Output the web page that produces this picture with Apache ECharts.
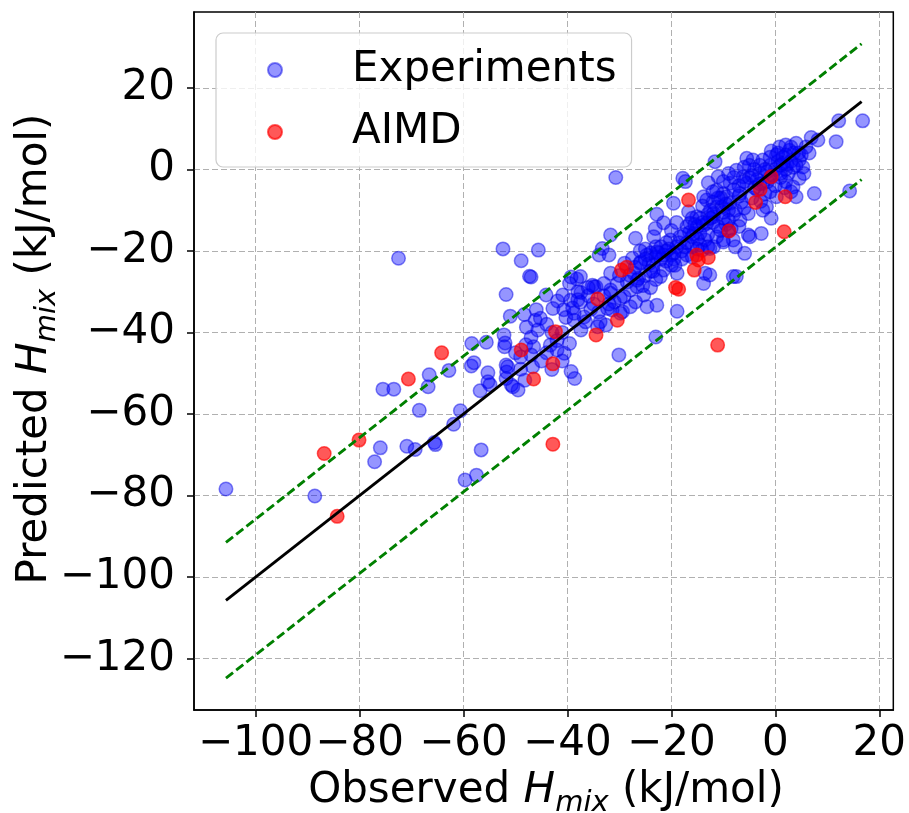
<!DOCTYPE html>
<html>
<head>
<meta charset="utf-8">
<script src="https://cdn.jsdelivr.net/npm/echarts@6/dist/echarts.min.js"></script>
<style>html,body{margin:0;padding:0;background:#fff;}#chart{width:909px;height:813px;}</style>
</head>
<body>
<div id="chart"></div>
<script>
// ---- data (observed, predicted) in kJ/mol ----
const experiments = [
[-105.7,-78.4],[-88.6,-80.1],[-72.5,-21.8],[-75.5,-53.9],[-73.4,-53.9],[-68.5,-59.1],[-76.0,-68.3],[-77.1,-71.7],[-70.9,-67.9],[-69.3,-68.7],
[-66.6,-50.4],[-66.8,-53.3],[-62.8,-49.3],[-65.6,-67.0],[-65.4,-67.5],[-61.9,-62.5],[-60.6,-59.2],[-59.7,-76.2],[-57.5,-75.0],[-56.6,-68.8],
[-58.4,-42.7],[-55.6,-42.4],[-58.5,-48.2],[-58.0,-47.4],[-55.3,-49.9],[-54.9,-52.8],[-56.8,-54.3],[-55.3,-52.1],[-52.4,-19.5],[-45.6,-19.8],
[-48.9,-22.4],[-47.3,-26.2],[-47.0,-26.4],[-39.3,-26.4],[-38.2,-26.9],[-51.8,-30.7],[-51.0,-36.0],[-48.3,-35.6],[-46.0,-34.4],[-44.1,-30.8],
[-41.9,-32.3],[-42.8,-34.1],[-40.7,-34.4],[-39.4,-32.1],[-37.4,-30.2],[-37.5,-32.6],[-35.5,-34.3],[-47.9,-38.7],[-46.2,-37.0],[-45.2,-36.5],
[-45.7,-39.4],[-47.0,-41.2],[-46.5,-43.5],[-43.3,-43.1],[-40.6,-45.1],[-39.6,-42.7],[-38.6,-51.3],[-52.2,-40.6],[-52.0,-42.6],[-52.1,-43.5],
[-51.8,-48.0],[-51.7,-49.7],[-50.8,-52.9],[-49.5,-54.1],[-48.2,-51.7],[-50.5,-53.3],[-51.5,-48.4],[-46.7,-48.4],[-47.0,-45.5],[-43.0,-49.1],
[-42.0,-44.3],[-39.3,-49.6],[-40.3,-36.3],[-38.7,-37.0],[-36.8,-36.2],[-37.4,-39.4],[-33.7,-37.4],[-32.6,-38.2],[-32.3,-34.1],[-31.0,-32.5],
[-31.4,-34.5],[-29.4,-34.9],[-34.5,-28.8],[-31.7,-29.6],[-29.8,-31.6],[-27.9,-29.6],[-26.9,-32.5],[-25.3,-30.8],[-26.6,-28.8],[-31.7,-25.5],
[-30.4,-28.0],[-27.2,-25.5],[-26.3,-26.7],[-30.1,-45.5],[-39.6,-28.0],[-33.3,-19.4],[-33.9,-21.0],[-31.7,-16.1],[-32.0,-21.0],[-26.9,-16.9],
[-27.5,-21.8],[-25.9,-22.7],[-28.5,-27.6],[-51.8,-51.3],
[-30.7,-2.0],[-11.6,1.9],[-17.8,-2.2],[-17.3,-3.0],[-12.9,-3.3],[-11.0,-1.8],[-19.6,-8.3],[-16.7,-10.4],[-22.8,-11.0],[-21.5,-13.1],
[-23.1,-14.5],[-23.4,-16.5],[-24.7,-21.0],[-22.8,-20.2],[-24.3,-23.1],[-21.5,-24.7],[-22.1,-26.3],[-18.9,-25.5],[-19.3,-23.5],[-20.2,-17.3],
[-18.3,-16.5],[-15.7,-15.7],[-16.4,-13.2],[-15.1,-11.6],[-13.8,-13.7],[-11.9,-11.6],[-13.2,-7.5],[-11.3,-9.2],[-10.0,-5.9],[-8.7,-8.3],
[-10.0,-17.3],[-8.1,-17.3],[-13.5,-17.3],[-14.1,-19.8],[-11.9,-19.0],[-13.8,-28.0],[-12.6,-25.9],[-18.9,-34.8],[-23.0,-41.1],[-8.1,-26.3],
[-29.1,-31.2],[-31.7,-30.4],[-24.7,-33.7],[-22.8,-33.3],[-26.6,-27.2],[-33.0,-28.0],[-34.9,-28.8],[-38.0,-30.0],[-40.9,-30.8],[-38.7,-35.3],
[-36.5,-37.4],[-34.2,-38.6],[-29.8,-35.3],[-27.9,-33.7],[-35.2,-28.4],[-37.5,-26.3],
[16.8,11.9],[12.2,11.9],[11.7,6.8],[8.2,7.2],[6.9,7.8],[5.9,5.5],[4.0,6.4],[2.7,4.7],[0.8,5.5],[0.2,3.5],
[4.6,2.3],[5.3,0.6],[4.6,-2.2],[3.4,-4.3],[0.2,-6.7],[4.0,-6.7],[7.5,-5.9],[14.3,-5.3],[-2.4,2.3],[-4.3,2.3],
[-5.5,2.7],[-7.5,-0.2],[-6.2,-1.8],[-13.8,-6.7],[-11.3,-5.1],[-8.7,-3.4],[-9.4,-6.7],[-6.8,-5.9],[-5.5,-3.4],[-2.4,-3.4],
[-1.7,-9.2],[-0.8,-12.0],[-2.4,-10.0],[-5.2,-10.8],[-6.8,-12.4],[-7.7,-10.0],[-10.3,-9.2],[-11.9,-10.8],[-13.2,-13.2],[-14.5,-15.7],
[-11.3,-16.5],[-10.0,-17.8],[-7.7,-19.0],[-5.2,-16.1],[-2.7,-15.7],[-5.9,-20.6],[-12.6,-19.4],[-13.5,-25.5],[-7.5,-26.3],[-4.9,-16.5],
[1.0,1.0],[2.0,0.0],[3.0,2.0],[1.5,3.0],[2.5,-1.0],[0.0,0.0],[-1.0,1.0],[3.5,4.0],[4.5,4.0],[1.0,-2.0],
[2.0,-3.0],[-0.5,-1.5],[5.0,3.5],[3.0,5.5],[2.0,6.0],[0.5,2.0],[-1.5,-0.5],[6.5,4.0],[-0.8,4.5],[1.8,-4.5],
[0.0,-4.0],[3.0,-5.5],[5.5,-1.0],[2.2,1.2],
[-3.0,-1.0],[-4.0,0.0],[-5.0,-2.0],[-6.0,0.5],[-3.5,-5.0],[-2.0,-6.0],[-4.5,-7.0],[-7.0,-4.0],[-8.0,-2.0],[-3.0,1.0],
[-1.5,-3.0],[-6.5,-8.0],[-9.0,-1.0],[-10.0,-3.0],[-4.0,-4.5],[-2.8,-7.8],[-5.0,1.0],[-1.0,-5.5],
[-9.0,-10.0],[-10.0,-12.0],[-12.0,-13.0],[-13.0,-11.0],[-14.0,-9.0],[-15.0,-14.0],[-16.0,-12.0],[-11.0,-14.0],[-9.5,-13.5],[-8.0,-11.0],
[-12.0,-8.0],[-10.5,-7.0],[-14.5,-12.0],[-16.5,-15.5],[-17.0,-14.0],[-13.0,-16.0],[-9.0,-15.0],[-7.0,-14.0],[-12.5,-10.0],
[-17.0,-18.0],[-18.0,-20.0],[-19.0,-19.0],[-20.0,-21.0],[-16.0,-19.0],[-15.0,-17.0],[-18.0,-22.0],[-20.0,-15.0],[-21.0,-18.0],[-19.5,-22.0],
[-17.5,-16.0],[-16.0,-21.5],[-22.0,-22.0],[-23.0,-19.0],[-21.5,-21.0],
[-25.0,-19.5],[-24.0,-20.5],[-23.0,-21.5],[-22.0,-19.0],[-21.0,-22.5],[-26.0,-20.0],[-25.0,-22.0],[-23.5,-23.5],
[-25.0,-26.0],[-27.0,-24.0],[-28.0,-26.0],[-24.0,-25.0],[-23.0,-27.0],[-25.5,-28.5],[-29.0,-23.0],[-26.0,-23.0],[-24.0,-29.0],[-30.0,-26.0],
[-33.0,-31.0],[-35.0,-33.0],[-36.0,-31.0],[-34.0,-35.0],[-32.0,-33.0],[-39.0,-34.0],[-38.0,-32.0],[-36.0,-29.0],
[-43.0,-40.0],[-41.0,-40.0],[-44.0,-38.0],[-42.0,-42.0],[-44.0,-45.0],[-41.0,-47.0],[-45.0,-47.0],
[-49.0,-46.0],[-48.0,-43.0],[-50.0,-45.0],[-49.0,-49.0],
[-1.0,3.0],[0.5,4.0],[2.0,3.5],[3.5,0.5],[1.0,-1.0],[-2.0,0.0],[-3.5,-2.5],[-4.5,-1.5],[-6.0,-3.0],[-7.0,-6.5],
[-8.0,-5.0],[-9.5,-8.5],[-11.0,-7.0],[-12.0,-5.5],[-10.0,-10.5],[-12.5,-12.0],[-14.0,-13.0],[-15.5,-13.5],[-16.0,-16.5],[-17.5,-19.0],
[-18.5,-18.0],[-19.5,-20.5],[-20.5,-19.5],[-21.0,-20.0],[-22.5,-20.5],[-20.0,-23.5],[-17.0,-21.0],[-14.5,-18.5],[-13.0,-19.0],[-9.0,-12.5],
[-6.0,-9.5],[-3.0,-3.5],[-1.0,-2.0],[1.5,1.5],[4.0,1.0],[-8.5,-14.5],[-10.5,-15.0],[-15.0,-19.5],[-19.0,-13.0],[-23.5,-25.0]
];
const aimd = [
[-86.8,-69.7],[-80.1,-66.4],[-84.3,-85.1],[-70.6,-51.4],[-64.2,-45.0],[-48.9,-44.3],[-46.5,-51.4],[-42.8,-47.7],[-42.3,-39.8],[-42.8,-67.4],
[-34.2,-31.8],[-30.4,-37.0],[-34.5,-40.6],[-29.6,-24.7],[-28.6,-24.0],[-16.7,-7.5],[-8.9,-15.1],[-18.6,-29.4],[-19.2,-29.0],[-15.1,-21.0],
[-14.8,-22.2],[-12.9,-21.6],[-15.6,-24.7],[-0.8,-1.8],[-2.9,-4.9],[-3.8,-8.1],[1.9,-6.7],[1.7,-15.3],[-11.1,-43.1]
];
const identityLine = [[-105.7,-105.7],[16.6,16.6]];
const upperBound   = [[-105.7,-91.5],[16.6,30.8]];
const lowerBound   = [[-105.7,-124.8],[16.6,-2.5]];
const xTicks = [-100,-80,-60,-40,-20,0,20];
const yTicks = [-120,-100,-80,-60,-40,-20,0,20];
const xRange = [-111.85, 22.7];
const yRange = [-132.6, 38.6];

const FONT = 'DejaVu Sans';
const FS = 42;
const fmt = v => (v < 0 ? '\u2212' + Math.abs(v) : String(v));

const chart = echarts.init(document.getElementById('chart'));
const richName = {
  n: {fontSize: FS, fontFamily: FONT, color: '#000', lineHeight: 54},
  i: {fontSize: FS, fontFamily: FONT, fontStyle: 'italic', color: '#000', lineHeight: 54},
  s: {fontSize: 29, fontFamily: FONT, fontStyle: 'italic', color: '#000', lineHeight: 29, verticalAlign: 'bottom'}
};
chart.setOption({
  animation: false,
  backgroundColor: '#fff',
  grid: {left: 194, top: 12, width: 704, height: 698, show: true, borderColor: '#000', borderWidth: 1.5, containLabel: false},
  xAxis: {
    type: 'value', min: xRange[0], max: xRange[1], splitNumber: 7,
    axisLine: {show: true, onZero: false, lineStyle: {color: '#000', width: 1.5}},
    axisTick: {show: true, inside: false, length: 7, lineStyle: {color: '#000', width: 1.5}, customValues: xTicks},
    axisLabel: {customValues: xTicks, formatter: fmt, fontSize: FS, fontFamily: FONT, color: '#000', margin: 13},
    splitLine: {show: true, lineStyle: {color: '#b0b0b0', width: 1, type: [6, 3]}}
  },
  yAxis: {
    type: 'value', min: yRange[0], max: yRange[1], splitNumber: 8,
    axisLine: {show: true, onZero: false, lineStyle: {color: '#000', width: 1.5}},
    axisTick: {show: true, inside: false, length: 7, lineStyle: {color: '#000', width: 1.5}, customValues: yTicks},
    axisLabel: {customValues: yTicks, formatter: fmt, fontSize: FS, fontFamily: FONT, color: '#000', margin: 19},
    splitLine: {show: true, lineStyle: {color: '#b0b0b0', width: 1, type: [6, 3]}}
  },
  legend: {
    orient: 'vertical', left: 216, top: 33, padding: [16, 15, 14, 51],
    itemWidth: 14, itemHeight: 14, itemGap: 20,
    backgroundColor: 'rgba(255,255,255,0.8)', borderColor: '#cccccc', borderWidth: 1.2, borderRadius: 7,
    textStyle: {fontSize: FS, fontFamily: FONT, color: '#000', padding: [0, 0, 0, 65]},
    data: ['Experiments', 'AIMD']
  },
  graphic: [
    {type: 'text', x: 546, y: 791, style: {text: '{n|Observed }{i|H}{s|mix}{n| (kJ/mol)}', rich: richName, align: 'center', verticalAlign: 'middle'}},
    {type: 'text', x: 35, y: 349, rotation: Math.PI / 2, style: {text: '{n|Predicted }{i|H}{s|mix}{n| (kJ/mol)}', rich: richName, align: 'center', verticalAlign: 'middle'}}
  ],
  series: [
    {name: 'Experiments', type: 'scatter', data: experiments, symbol: 'circle', symbolSize: 13.5, z: 2,
     itemStyle: {color: 'rgba(0,0,255,0.52)', borderColor: 'rgba(0,0,230,0.6)', borderWidth: 1.5}},
    {name: 'AIMD', type: 'scatter', data: aimd, symbol: 'circle', symbolSize: 13.5, z: 3,
     itemStyle: {color: 'rgba(255,0,0,0.82)', borderColor: 'rgba(255,0,0,0.82)', borderWidth: 1.5}},
    {name: 'identity', type: 'line', data: identityLine, symbol: 'none', z: 4, silent: true,
     lineStyle: {color: '#000', width: 2.9}},
    {name: 'upper', type: 'line', data: upperBound, symbol: 'none', z: 4, silent: true,
     lineStyle: {color: '#008000', width: 2.9, type: [9, 4]}},
    {name: 'lower', type: 'line', data: lowerBound, symbol: 'none', z: 4, silent: true,
     lineStyle: {color: '#008000', width: 2.9, type: [9, 4]}}
  ]
});
</script>
</body>
</html>
